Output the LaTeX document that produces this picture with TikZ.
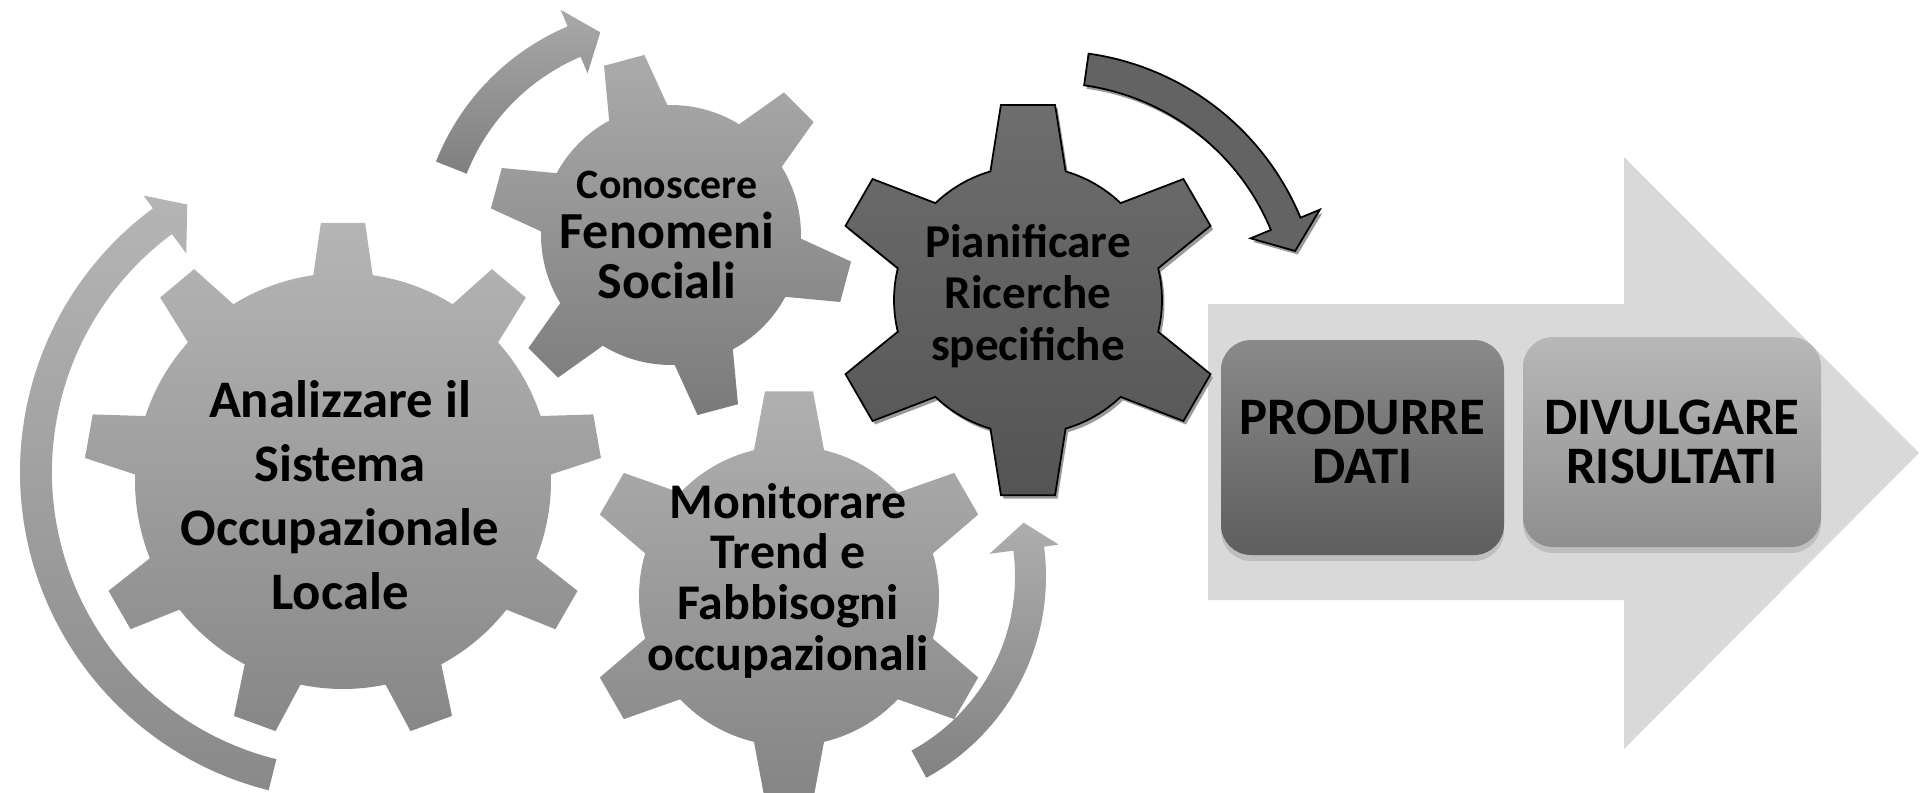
\documentclass[tikz,border=0pt]{standalone}
\usepackage{fontspec}
\setmainfont{Carlito}
\usetikzlibrary{calc,shadows}

% gear: style, centre, teeth, body radius, tip radius, first tooth, tip half angle, base half angle
\newcommand{\gear}[8]{\path[#1,shift={#2}] ({#6-#8}:#4)
  \foreach \tooth [evaluate=\tooth as \ang using {#6+(\tooth-1)*360/#3}] in {1,...,#3}{
    -- ({\ang-#7}:#5) -- ({\ang+#7}:#5) -- ({\ang+#8}:#4)
    arc[start angle={\ang+#8}, end angle={\ang+360/#3-#8}, radius=#4]} -- cycle;}

% circular arrow: style, centre, inner r, outer r, tail angle, head angle, tip angle, head inner r, head outer r
\newcommand{\cycarrow}[9]{\path[#1,shift={#2}] (#5:#3)
  arc[start angle=#5, end angle=#6, radius=#3] -- (#6:#8) -- (#7:{(#3+#4)/2})
  -- (#6:#9) -- (#6:#4) arc[start angle=#6, end angle=#5, radius=#4] -- cycle;}

\begin{document}
\begin{tikzpicture}[x=0.1mm,y=0.1mm,
    gtext/.style={align=center, inner sep=0pt, anchor=base},
    stagebox/.style={rounded corners=3mm, minimum width=28.3mm, minimum height=21.5mm, align=center,
      font=\bfseries\fontsize{15}{14}\selectfont,
      drop shadow={shadow xshift=0mm, shadow yshift=-0.6mm, opacity=0.3}},
    darkline/.style={draw=black, line width=0.5pt,
      drop shadow={shadow xshift=0.25mm, shadow yshift=-0.35mm, fill=black!40, opacity=1}}]
  \useasboundingbox (0,0) rectangle (1929,792);
  \clip (0,0) rectangle (1929,792);

  % big arrow behind the boxes
  \fill[black!15] (1208,192) -- (1624,192) -- (1624,43) -- (1919,339) -- (1624,635) -- (1624,488) -- (1208,488) -- cycle;
  \node[stagebox, top color=black!46, bottom color=black!63, text depth=1.1mm] (produrre) at (1362.5,344.5) {PRODURRE\\DATI};
  \node[stagebox, top color=black!28, bottom color=black!44, minimum width=29.8mm, minimum height=21mm] (divulgare) at (1672,350) {DIVULGARE\\RISULTATI};

  % gears
  \gear{top color=black!29, bottom color=black!47}{(343,311)}{9}{208}{259}{10}{4.9}{8.2}
  \gear{top color=black!33, bottom color=black!52}{(671,557)}{6}{130}{182}{45}{6.6}{13.4}
  \gear{top color=black!31, bottom color=black!48}{(789,196)}{6}{150}{206}{30}{6.7}{13.5}
  \gear{top color=black!57, bottom color=black!67, darkline}{(1028,492)}{6}{134}{197}{30}{7.9}{16.3}

  % arrows round the gears
  \cycarrow{top color=black!29, bottom color=black!46}{(348,320)}{296}{328}{256}{126.5}{121}{272}{344}
  \cycarrow{top color=black!34, bottom color=black!50}{(663,541)}{211}{244}{158.5}{113}{106}{193}{262}
  \cycarrow{fill=black!61, darkline}{(1051,471)}{238}{270}{82}{22.5}{16}{216}{291}
  \cycarrow{top color=black!32, bottom color=black!49}{(817,215.5)}{198}{229}{-61.5}{7.5}{14.6}{174}{244}

  % gear labels
  \node[gtext, font=\bfseries\fontsize{15}{18.2}\selectfont] (analizzare) at (340,183) {Analizzare il\\Sistema\\Occupazionale\\Locale};
  \node[gtext, font=\bfseries\fontsize{14.8}{14.2}\selectfont] (conoscere) at (667,494) {{\fontsize{11.9}{14.2}\selectfont Conoscere}\\Fenomeni\\Sociali};
  \node[gtext, font=\bfseries\fontsize{13.4}{14.6}\selectfont] (pianificare) at (1028,432) {Pianificare\\Ricerche\\specifiche};
  \node[gtext, font=\bfseries\fontsize{14.2}{14.4}\selectfont] (monitorare) at (788,122) {Monitorare\\Trend e\\Fabbisogni\\occupazionali};
\end{tikzpicture}
\end{document}
